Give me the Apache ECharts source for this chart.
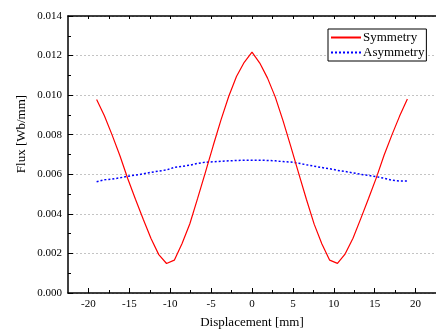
<!DOCTYPE html>
<html>
<head>
<meta charset="utf-8">
<script src="https://cdn.jsdelivr.net/npm/echarts@6/dist/echarts.min.js"></script>
<style>
  html, body { margin: 0; padding: 0; background: #fff; }
  #chart { width: 436px; height: 334px; }
</style>
</head>
<body>
<div id="chart"></div>
<script>
// Sample positions along the displacement axis [mm]
const displacement = [
  -19, -18.05, -17.1, -16.15, -15.2, -14.25, -13.3, -12.35, -11.4, -10.45,
  -9.5, -8.55, -7.6, -6.65, -5.7, -4.75, -3.8, -2.85, -1.9, -0.95,
  0,
  0.95, 1.9, 2.85, 3.8, 4.75, 5.7, 6.65, 7.6, 8.55,
  9.5, 10.45, 11.4, 12.35, 13.3, 14.25, 15.2, 16.15, 17.1, 18.05, 19
];

// Flux linkage [Wb/mm], symmetric arrangement
const symmetry = [
  0.00978, 0.00896, 0.00798, 0.00694, 0.00579, 0.00474, 0.00373, 0.00275, 0.00194, 0.00149,
  0.00166, 0.00250, 0.00350, 0.00478, 0.00610, 0.00744, 0.00874, 0.00993, 0.01094, 0.01166,
  0.01217,
  0.01162, 0.01086, 0.00990, 0.00870, 0.00740, 0.00606, 0.00474, 0.00348, 0.00248,
  0.00166, 0.00150, 0.00198, 0.00277, 0.00376, 0.00478, 0.00582, 0.00696, 0.00798, 0.00894, 0.00980
];

// Flux linkage [Wb/mm], asymmetric arrangement
const asymmetry = [
  0.00562, 0.00572, 0.00576, 0.00582, 0.00590, 0.00596, 0.00602, 0.00610, 0.00616, 0.00622,
  0.00635, 0.00640, 0.00646, 0.00655, 0.00661, 0.00663, 0.00666, 0.00668, 0.00670, 0.00671,
  0.00671,
  0.00671, 0.00670, 0.00668, 0.00664, 0.00662, 0.00656, 0.00648, 0.00641, 0.00634,
  0.00628, 0.00620, 0.00614, 0.00607, 0.00600, 0.00594, 0.00588, 0.00580, 0.00570, 0.00566, 0.00566
];

const xMajorTicks = [-20, -15, -10, -5, 0, 5, 10, 15, 20];
const xMinorTicks = [-17.5, -12.5, -7.5, -2.5, 2.5, 7.5, 12.5, 17.5];
const xTopTicks = [-20, -17.5, -15, -12.5, -10, -7.5, -5, -2.5, 0, 2.5, 5, 7.5, 10, 12.5, 15, 17.5, 20];

const FONT = '"Liberation Serif", "DejaVu Serif", serif';

const chart = echarts.init(document.getElementById('chart'), null, { renderer: 'canvas' });

const xBase = {
  type: 'value',
  min: -22.5,
  max: 22.5,
  interval: 2.5,
  splitLine: { show: false }
};

chart.setOption({
  animation: false,
  backgroundColor: '#fff',
  grid: { left: 68, top: 16, width: 374, bottom: 41, containLabel: false },
  legend: {
    orient: 'vertical',
    left: 328,
    top: 29,
    padding: [2, 2, 2, 2],
    itemGap: 2,
    itemWidth: 30,
    itemHeight: 14,
    borderColor: '#000',
    borderWidth: 1,
    backgroundColor: '#fff',
    itemStyle: { opacity: 0 },
    textStyle: { fontFamily: FONT, fontSize: 13, color: '#000', padding: [0, 0, 0, -3] },
    data: ['Symmetry', 'Asymmetry']
  },
  xAxis: [
    Object.assign({}, xBase, {
      position: 'bottom',
      name: 'Displacement [mm]',
      nameLocation: 'middle',
      nameGap: 23,
      nameTextStyle: { fontFamily: FONT, fontSize: 13, color: '#000' },
      axisLine: { show: true, onZero: false, lineStyle: { color: '#000', width: 1.5 } },
      axisTick: { show: true, inside: true, length: 5, customValues: xMajorTicks, lineStyle: { color: '#000', width: 1 } },
      axisLabel: { show: true, customValues: xMajorTicks, margin: 6, fontFamily: FONT, fontSize: 11, color: '#000' }
    }),
    Object.assign({}, xBase, {
      position: 'bottom',
      axisLine: { show: false, onZero: false },
      axisTick: { show: true, inside: true, length: 3, customValues: xMinorTicks, lineStyle: { color: '#000', width: 1 } },
      axisLabel: { show: false }
    }),
    Object.assign({}, xBase, {
      position: 'top',
      axisLine: { show: true, onZero: false, lineStyle: { color: '#000', width: 1.5 } },
      axisTick: { show: true, inside: true, length: 3, customValues: xTopTicks, lineStyle: { color: '#000', width: 1 } },
      axisLabel: { show: false }
    })
  ],
  yAxis: {
    type: 'value',
    min: 0,
    max: 0.014,
    interval: 0.002,
    axisLine: { show: true, onZero: false, lineStyle: { color: '#000', width: 1.5 } },
    axisTick: { show: true, inside: true, length: 5, lineStyle: { color: '#000', width: 1 } },
    minorTick: { show: true, splitNumber: 2, length: 3, lineStyle: { color: '#000', width: 1 } },
    axisLabel: {
      margin: 6,
      fontFamily: FONT,
      fontSize: 11,
      color: '#000',
      formatter: v => v.toFixed(3)
    },
    splitLine: { show: true, lineStyle: { color: '#c4c4c4', width: 1, type: [2, 2] } }
  },
  graphic: [{
    type: 'text',
    x: 22,
    y: 134,
    rotation: Math.PI / 2,
    style: {
      text: 'Flux [Wb/mm]',
      fontFamily: FONT,
      fontSize: 13,
      fill: '#000',
      align: 'center',
      verticalAlign: 'middle'
    }
  }],
  series: [
    {
      name: 'Symmetry',
      type: 'line',
      xAxisIndex: 0,
      symbol: 'none',
      data: displacement.map((x, i) => [x, symmetry[i]]),
      lineStyle: { color: '#ff0000', width: 1.2 },
      itemStyle: { color: '#ff0000' },
      z: 3
    },
    {
      name: 'Asymmetry',
      type: 'line',
      xAxisIndex: 0,
      symbol: 'none',
      data: displacement.map((x, i) => [x, asymmetry[i]]),
      lineStyle: { color: '#0000ff', width: 1.5, type: [2, 2] },
      itemStyle: { color: '#0000ff' },
      z: 2
    }
  ]
});
</script>
</body>
</html>
